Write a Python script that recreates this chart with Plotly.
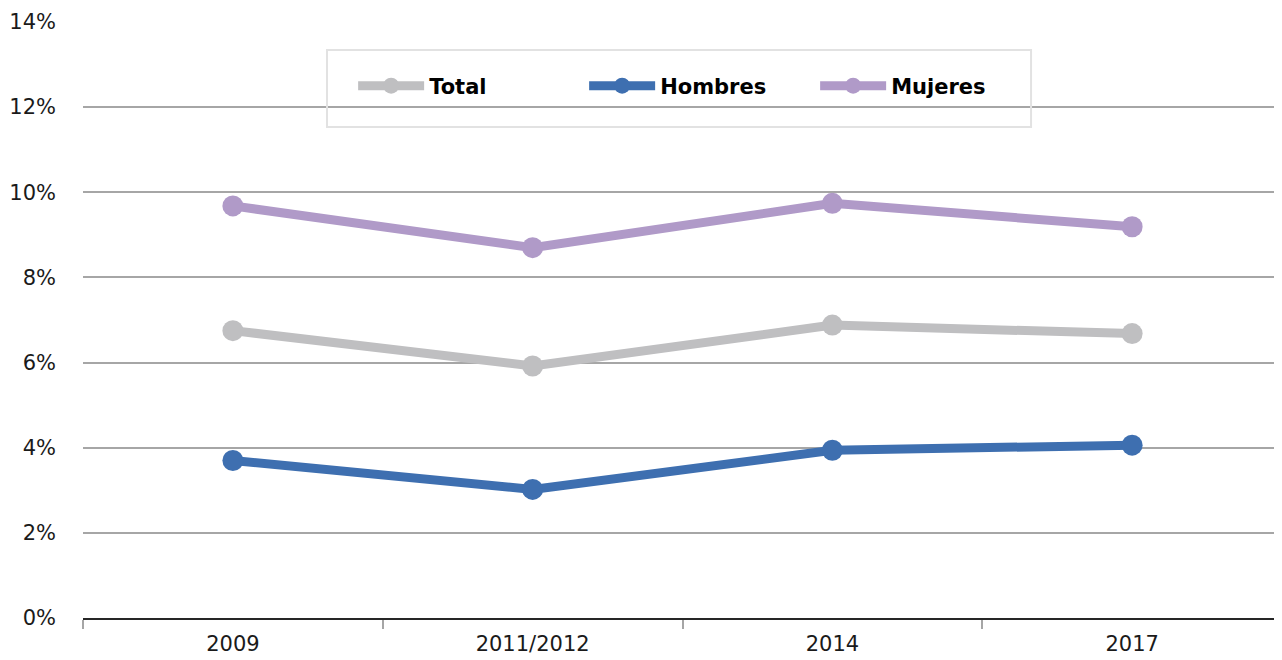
import plotly.graph_objects as go

years = ["2009", "2011/2012", "2014", "2017"]
total = [6.75, 5.92, 6.88, 6.68]
hombres = [3.70, 3.02, 3.94, 4.06]
mujeres = [9.68, 8.70, 9.74, 9.19]

series = [
    ("Total", total, "#bfbfc1"),
    ("Hombres", hombres, "#3e6fb0"),
    ("Mujeres", mujeres, "#b09ac8"),
]

fig = go.Figure()
for name, vals, color in series:
    fig.add_trace(go.Scatter(
        x=years, y=vals, name=name, mode="lines+markers",
        line=dict(color=color, width=9),
        marker=dict(color=color, size=21),
    ))

fig.update_layout(
    width=1274, height=652,
    margin=dict(l=75, r=0, t=14, b=42),
    plot_bgcolor="white", paper_bgcolor="white",
    font=dict(family="DejaVu Sans", size=21, color="#1a1a1a"),
    showlegend=True,
    legend=dict(
        orientation="h", x=0.2253, xanchor="left", y=0.8926, yanchor="middle",
        bgcolor="rgba(0,0,0,0)", borderwidth=0,
        font=dict(family="DejaVu Sans", size=21, color="#000000", weight="bold"),
        itemwidth=66, entrywidth=150,
    ),
    shapes=[dict(
        type="rect", xref="paper", yref="paper",
        x0=0.2035, x1=0.7907, y0=0.824, y1=0.953,
        line=dict(color="#e2e2e2", width=2), fillcolor="rgba(0,0,0,0)",
    )],
)
fig.update_xaxes(
    type="category", range=[-0.5, 3.5], tickson="boundaries",
    ticks="outside", ticklen=9, tickcolor="#a6a6a6", tickwidth=1.5,
    showline=True, linecolor="#262626", linewidth=2,
    showgrid=False, zeroline=False, ticklabelstandoff=6,
)
fig.update_yaxes(
    range=[0, 14], dtick=2, ticksuffix="%",
    showgrid=True, gridcolor="#a6a6a6", gridwidth=1.5,
    zeroline=False, showline=False, ticks="", ticklabelstandoff=26,
)

fig.write_html("out.html")
